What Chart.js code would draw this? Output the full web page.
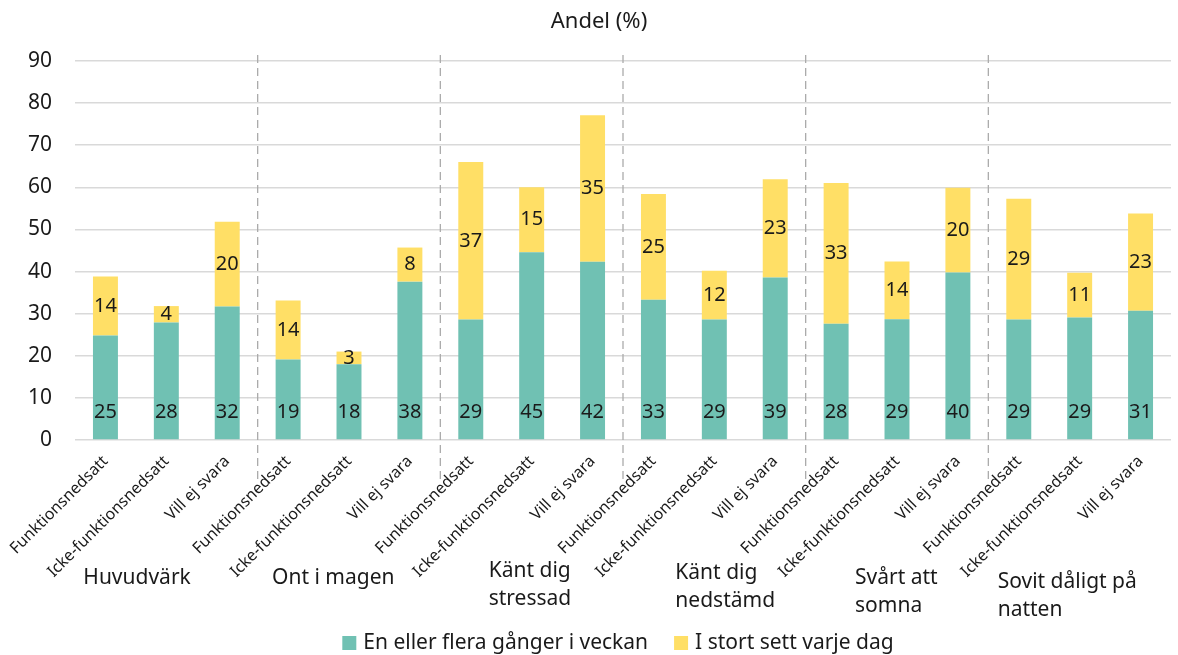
<!DOCTYPE html>
<html>
<head>
<meta charset="utf-8">
<script src="https://cdn.jsdelivr.net/npm/chart.js@4.4.1/dist/chart.umd.min.js"></script>
<style>
  html, body { margin: 0; padding: 0; background: #fff; }
  #wrap { width: 1178px; height: 655px; }
</style>
</head>
<body>
<div id="wrap"><canvas id="chart" width="1178" height="655"></canvas></div>
<script>
// categories, repeated for every symptom group
const subgroups = ['Funktionsnedsatt', 'Icke-funktionsnedsatt', 'Vill ej svara'];
const groups = [
  ['Huvudvärk'],
  ['Ont i magen'],
  ['Känt dig', 'stressad'],
  ['Känt dig', 'nedstämd'],
  ['Svårt att', 'somna'],
  ['Sovit dåligt på', 'natten']
];
const seriesNames = ['En eller flera gånger i veckan', 'I stort sett varje dag'];

// andel (%) per bar
const weekly = [24.8, 27.9, 31.7, 19.1, 18.0, 37.6, 28.6, 44.6, 42.3, 33.3, 28.6, 38.6, 27.6, 28.7, 39.8, 28.6, 29.1, 30.7];
const daily  = [14.0, 3.9, 20.1, 14.0, 3.0, 8.1, 37.4, 15.4, 34.8, 25.1, 11.6, 23.3, 33.4, 13.7, 20.1, 28.7, 10.6, 23.1];

const yTicks = [0, 10, 20, 30, 40, 50, 60, 70, 80, 90];

// layout of the group captions under the axis (offset from group centre, first line y)
const groupLabelPos = [
  { dx: -83, y: 578 },
  { dx: -77, y: 578 },
  { dx: -43, y: 571 },
  { dx: -39, y: 573 },
  { dx: -42, y: 578 },
  { dx: -82, y: 582 }
];

const labels = [];
groups.forEach(() => subgroups.forEach(s => labels.push(s)));

const FONT = "'Noto Sans', 'Open Sans', sans-serif";
const TEAL = '#70c1b3';
const YELLOW = '#ffdf66';
const TEXT = '#1a1a1a';

// title, value labels, dashed group separators, group captions and legend
const extras = {
  id: 'extras',
  beforeDatasetsDraw(chart) {
    const ctx = chart.ctx;
    const x = chart.scales.x;
    const per = subgroups.length;
    ctx.save();
    ctx.strokeStyle = '#ababab';
    ctx.lineWidth = 1.3;
    ctx.setLineDash([8, 5]);
    for (let g = 1; g < groups.length; g++) {
      const px = (x.getPixelForValue(g * per - 1) + x.getPixelForValue(g * per)) / 2;
      ctx.beginPath();
      ctx.moveTo(px, 55);
      ctx.lineTo(px, 481);
      ctx.stroke();
    }
    ctx.restore();
  },
  afterDatasetsDraw(chart) {
    const ctx = chart.ctx;
    ctx.save();
    ctx.fillStyle = TEXT;
    ctx.textBaseline = 'middle';

    // title
    ctx.font = '22px ' + FONT;
    ctx.textAlign = 'center';
    ctx.fillText('Andel (%)', 599, 22);

    // value labels
    ctx.font = '20px ' + FONT;
    chart.getDatasetMeta(0).data.forEach((bar, i) => {
      ctx.fillText(Math.round(weekly[i]), bar.x, bar.base - 27);
    });
    chart.getDatasetMeta(1).data.forEach((bar, i) => {
      ctx.fillText(Math.round(daily[i]), bar.x, (bar.y + bar.base) / 2);
    });

    // group captions
    const x = chart.scales.x;
    const per = subgroups.length;
    ctx.font = '21px ' + FONT;
    ctx.textAlign = 'left';
    groups.forEach((lines, g) => {
      const cx = (x.getPixelForValue(g * per) + x.getPixelForValue(g * per + per - 1)) / 2;
      const pos = groupLabelPos[g];
      lines.forEach((t, j) => ctx.fillText(t, cx + pos.dx, pos.y + j * 28));
    });

    // legend
    const ds = chart.data.datasets;
    const box = 14, gap = 7, itemGap = 26, ly = 643;
    const widths = ds.map(d => ctx.measureText(d.label).width);
    let total = widths.reduce((a, w) => a + box + gap + w, 0) + itemGap * (ds.length - 1);
    let lx = 618 - total / 2;
    ds.forEach((d, i) => {
      ctx.fillStyle = d.backgroundColor;
      ctx.fillRect(lx, ly - box / 2, box, box);
      ctx.fillStyle = TEXT;
      ctx.fillText(d.label, lx + box + gap, ly);
      lx += box + gap + widths[i] + itemGap;
    });
    ctx.restore();
  }
};

new Chart(document.getElementById('chart'), {
  type: 'bar',
  data: {
    labels: labels,
    datasets: [
      { label: seriesNames[0], data: weekly, backgroundColor: TEAL },
      { label: seriesNames[1], data: daily, backgroundColor: YELLOW }
    ]
  },
  options: {
    responsive: false,
    animation: false,
    devicePixelRatio: 1,
    layout: { padding: { left: 0, right: 7, top: 61, bottom: 40 } },
    datasets: { bar: { categoryPercentage: 1, barPercentage: 0.41 } },
    scales: {
      x: {
        stacked: true,
        grid: { display: false },
        border: { display: false },
        ticks: {
          autoSkip: false,
          minRotation: 45,
          maxRotation: 45,
          color: TEXT,
          font: { family: FONT, size: 16 },
          padding: 4
        },
        afterFit(scale) { scale.height = 175; }
      },
      y: {
        stacked: true,
        min: 0,
        max: 90,
        afterBuildTicks(scale) { scale.ticks = yTicks.map(v => ({ value: v })); },
        grid: { color: '#d9d9d9', lineWidth: 1.5, drawTicks: false },
        border: { display: false },
        ticks: {
          color: TEXT,
          font: { family: FONT, size: 21 },
          padding: 23
        },
        afterFit(scale) { scale.width = 75; }
      }
    },
    plugins: {
      title: { display: false },
      legend: { display: false },
      tooltip: { enabled: false }
    }
  },
  plugins: [extras]
});
</script>
</body>
</html>
